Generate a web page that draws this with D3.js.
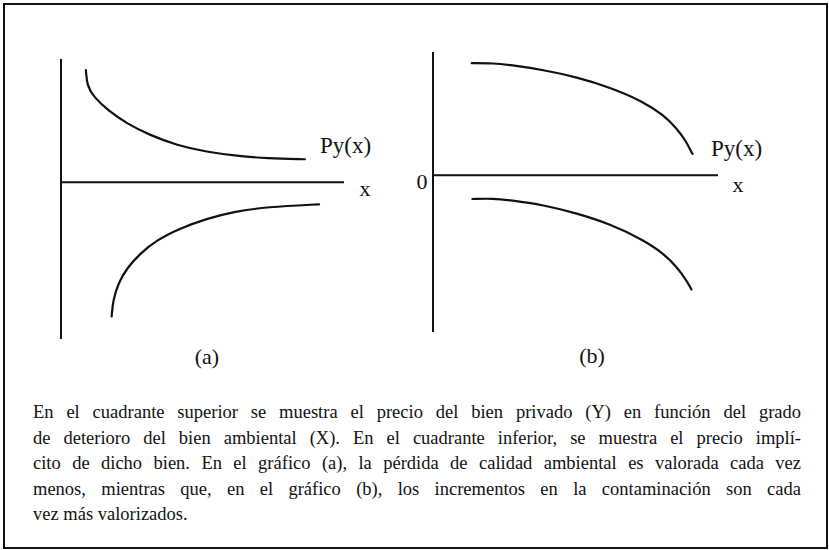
<!DOCTYPE html>
<html>
<head>
<meta charset="utf-8">
<script src="https://cdn.jsdelivr.net/npm/d3@7"></script>
<style>
  html, body { margin: 0; padding: 0; background: #fff; }
  svg { display: block; }
</style>
</head>
<body>
<svg id="chart" width="829" height="550"></svg>
<script>
// Curves in abstract units: x = degree of environmental deterioration, y = price.
// Panel (a): price of the private good (upper) and implicit price (lower).
const aUpper = [[0.88, 4.0], [0.92, 3.45], [1.15, 3.05], [1.70, 2.53], [2.32, 2.10], [3.14, 1.68],
                [4.09, 1.32], [5.15, 1.08], [6.21, 0.94], [7.27, 0.85], [8.62, 0.82]];
const aLower = [[1.79, -4.79], [1.84, -4.21], [2.02, -3.62], [2.32, -3.08], [2.79, -2.55], [3.38, -2.07],
                [4.20, -1.65], [5.15, -1.30], [6.09, -1.06], [7.27, -0.88], [9.12, -0.79]];
// Panel (b)
const bUpper = [[1.37, 4.0], [2.13, 4.0], [2.72, 3.94], [3.90, 3.76], [5.08, 3.50], [6.25, 3.14],
                [7.43, 2.63], [8.14, 2.15], [8.61, 1.68], [8.95, 1.20], [9.12, 0.85], [9.17, 0.76]];
const bLower = [[1.39, -0.85], [2.13, -0.83], [2.72, -0.89], [3.90, -1.06], [5.08, -1.36], [6.25, -1.74],
                [7.43, -2.31], [8.14, -2.79], [8.61, -3.27], [8.95, -3.74], [9.13, -4.08]];

const xDomain = [0, 10];
const yDomain = [-5.6, 4.4];

const curveLabel = "Py(x)";
const axisLabel = "x";
const originLabel = "0";
const panelNames = ["(a)", "(b)"];

const captionLines = [
  "En el cuadrante superior se muestra el precio del bien privado (Y) en función del grado",
  "de deterioro del bien ambiental (X). En el cuadrante inferior, se muestra el precio implí-",
  "cito de dicho bien. En el gráfico (a), la pérdida de calidad ambiental es valorada cada vez",
  "menos, mientras que, en el gráfico (b), los incrementos en la contaminación son cada",
  "vez más valorizados."
];

const serif = "'Liberation Serif', 'Times New Roman', Times, 'DejaVu Serif', serif";
const ink = "#111";

const svg = d3.select("#chart");

// Outer frame
svg.append("rect")
  .attr("x", 4).attr("y", 4).attr("width", 823).attr("height", 544)
  .attr("fill", "none").attr("stroke", ink).attr("stroke-width", 2);

function label(g, x, y, size, txt, anchor) {
  return g.append("text")
    .attr("x", x).attr("y", y)
    .attr("font-family", serif).attr("font-size", size)
    .attr("fill", ink)
    .attr("text-anchor", anchor || "start")
    .text(txt);
}

function drawPanel(cfg) {
  const x = d3.scaleLinear().domain(xDomain).range([cfg.left, cfg.left + 283]);
  const y = d3.scaleLinear().domain(yDomain).range([cfg.bottom, cfg.bottom - 280]);
  const g = svg.append("g");

  // Axes: vertical price axis and horizontal deterioration axis
  g.append("line")
    .attr("x1", x(0)).attr("x2", x(0))
    .attr("y1", y(yDomain[1])).attr("y2", y(yDomain[0]))
    .attr("stroke", ink).attr("stroke-width", 2);
  g.append("line")
    .attr("x1", x(0)).attr("x2", x(xDomain[1]) + cfg.axisExtra)
    .attr("y1", y(0)).attr("y2", y(0))
    .attr("stroke", ink).attr("stroke-width", 2);

  const line = d3.line()
    .x(d => x(d[0])).y(d => y(d[1]))
    .curve(d3.curveBasis);

  [cfg.upper, cfg.lower].forEach(data => {
    g.append("path")
      .attr("d", line(data))
      .attr("fill", "none").attr("stroke", ink)
      .attr("stroke-width", 2.2).attr("stroke-linecap", "round");
  });

  label(g, cfg.pyX, cfg.pyY, 23, curveLabel);
  label(g, cfg.xLabX, cfg.xLabY, 22, axisLabel, "middle");
  if (cfg.origin) label(g, x(0) - 11, y(0) + 14, 22, originLabel, "middle");
  label(g, cfg.nameX, cfg.nameY, 22, cfg.name, "middle");
}

drawPanel({ left: 61, bottom: 339, axisExtra: 0, upper: aUpper, lower: aLower,
            pyX: 320, pyY: 153, xLabX: 365, xLabY: 196, origin: false,
            name: panelNames[0], nameX: 207, nameY: 364 });
drawPanel({ left: 433, bottom: 332, axisExtra: 2, upper: bUpper, lower: bLower,
            pyX: 711, pyY: 156, xLabX: 738, xLabY: 192, origin: true,
            name: panelNames[1], nameX: 592, nameY: 363 });

// Caption, justified between the margins
const capLeft = 33, capRight = 801, capTop = 418, capStep = 25.5, capSize = 18.5;
captionLines.forEach((lineText, i) => {
  const yPos = capTop + i * capStep;
  const words = lineText.split(" ");
  const nodes = words.map(w => svg.append("text")
    .attr("y", yPos)
    .attr("font-family", serif).attr("font-size", capSize)
    .attr("fill", ink).text(w));
  const widths = nodes.map(n => n.node().getComputedTextLength());
  const total = d3.sum(widths);
  const last = i === captionLines.length - 1;
  const gap = last ? capSize * 0.25 : (capRight - capLeft - total) / (words.length - 1);
  let cx = capLeft;
  nodes.forEach((n, k) => { n.attr("x", cx); cx += widths[k] + gap; });
});
</script>
</body>
</html>
